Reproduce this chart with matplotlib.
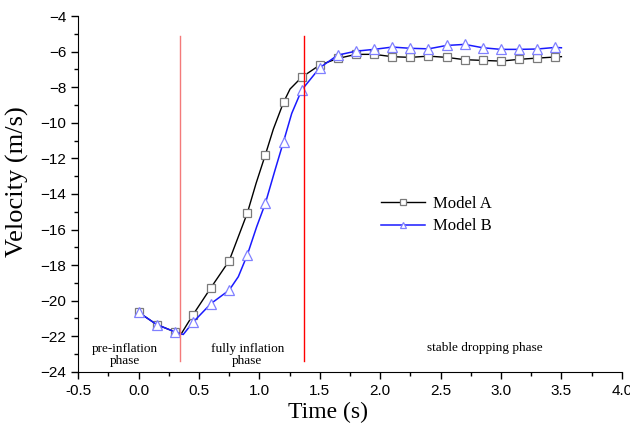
import numpy as np
import matplotlib
matplotlib.use("Agg")
import matplotlib.pyplot as plt
from matplotlib.ticker import MultipleLocator

# curve points; markers sit on the 0.15 s grid
t_a = [0.0, 0.15, 0.3, 0.35, 0.45, 0.6, 0.75, 0.9, 0.973, 1.05, 1.116, 1.2, 1.254, 1.35,
       1.5, 1.65, 1.8, 1.95, 2.1, 2.25, 2.4, 2.55, 2.7, 2.85, 3.0, 3.15, 3.3, 3.45, 3.5]
v_a = [-20.65, -21.34, -21.75, -21.9, -20.8, -19.26, -17.76, -15.08, -13.4, -11.79, -10.35,
       -8.85, -8.1, -7.44, -6.75, -6.38, -6.15, -6.15, -6.28, -6.32, -6.25, -6.32, -6.45,
       -6.49, -6.53, -6.43, -6.36, -6.3, -6.28]
t_b = [0.0, 0.15, 0.3, 0.37, 0.45, 0.6, 0.75, 0.826, 0.9, 0.978, 1.05, 1.13, 1.2, 1.268,
       1.35, 1.5, 1.65, 1.8, 1.95, 2.1, 2.25, 2.4, 2.55, 2.7, 2.85, 3.0, 3.15, 3.3, 3.45, 3.5]
v_b = [-20.65, -21.34, -21.75, -21.9, -21.22, -20.16, -19.41, -18.65, -17.43, -15.84, -14.52,
       -12.65, -11.06, -9.47, -8.16, -6.9, -6.19, -5.97, -5.87, -5.74, -5.81, -5.84, -5.65,
       -5.59, -5.78, -5.87, -5.87, -5.85, -5.76, -5.78]

phase_lines = [0.34, 1.37]
phase_colors = ["#f47a7a", "#ff0000"]
phase_text = [(-0.11, "pre-inflation\nphase"), (0.9, "fully inflation\nphase"),
              (2.87, "stable dropping phase")]

serif = "Liberation Serif"
sans = "Liberation Sans"


def on_grid(ts, step=0.15):
    return [i for i, t in enumerate(ts) if abs(t / step - round(t / step)) < 1e-6 and t < 3.46]


fig = plt.figure(figsize=(6.3, 4.24), dpi=100)
ax = fig.add_axes([0.124, 0.123, 0.863, 0.839])

ax.plot(t_a, v_a, color="black", lw=1.0, marker="s", markevery=on_grid(t_a), ms=6,
        mfc="white", mec="#7a7a7a", mew=0.9, label="Model A")
ax.plot(t_b, v_b, color="#1a1aff", lw=1.1, marker="^", markevery=on_grid(t_b), ms=7,
        mfc="white", mec="#8080ff", mew=0.9, label="Model B")

for x, c in zip(phase_lines, phase_colors):
    ax.plot([x, x], [-5.1, -23.37], color=c, lw=1.0)

for i, (x, s) in enumerate(phase_text):
    y = -22.65 if i == 2 else -23.05
    ax.text(x, y, s, ha="center", va="center", fontsize=9.5, family=serif,
            linespacing=1.05)

ax.set_xlim(-0.5, 4.0)
ax.set_ylim(-24, -4)
ax.xaxis.set_minor_locator(MultipleLocator(0.25))
ax.yaxis.set_major_locator(MultipleLocator(2))
ax.yaxis.set_minor_locator(MultipleLocator(1))
ax.set_xticks(np.arange(-0.5, 4.01, 0.5))
ax.set_xticklabels([f"{v:.1f}" for v in np.arange(-0.5, 4.01, 0.5)])
for lab in ax.get_xticklabels() + ax.get_yticklabels():
    lab.set_family(sans)
    lab.set_fontsize(11)
ax.tick_params(which="major", direction="out", length=5, width=1)
ax.tick_params(which="minor", direction="out", length=3, width=1)
ax.spines["top"].set_visible(False)
ax.spines["right"].set_visible(False)

ax.set_xlabel("Time (s)", family=serif, fontsize=17, labelpad=1)
ax.xaxis.set_label_coords(0.459, -0.085)
ax.set_ylabel("Velocity (m/s)", family=serif, fontsize=19)
ax.yaxis.set_label_coords(-0.09, 0.535)

leg = ax.legend(loc="upper left", bbox_to_anchor=(0.53, 0.537), frameon=False,
                prop={"family": serif, "size": 12}, handlelength=2.6,
                handletextpad=0.5, labelspacing=0.4, markerscale=0.7)

fig.savefig("out.png", dpi=100)
